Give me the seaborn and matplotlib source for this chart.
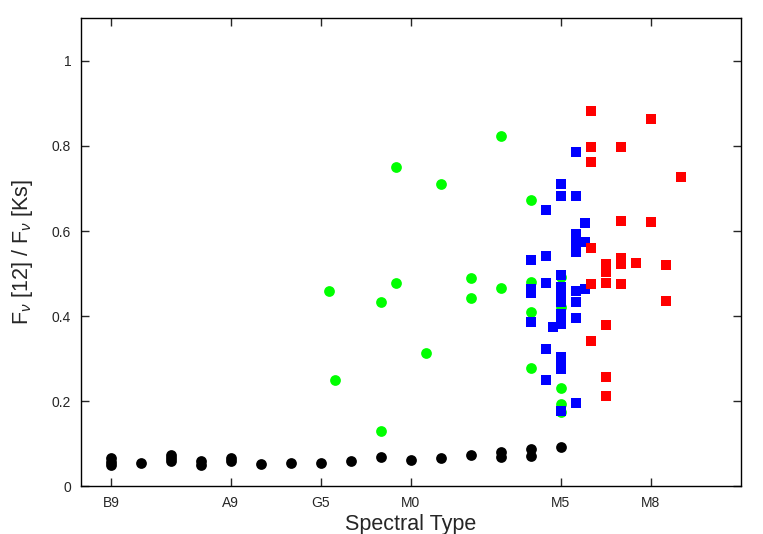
"""Mid-IR excess F_nu[12]/F_nu[Ks] against spectral type"""
import matplotlib
matplotlib.use("Agg")
import matplotlib.pyplot as plt
import pandas as pd
import seaborn as sns


# spectral type scale: M0 = 0, M5 = 5, M8 = 8, G5 = -3, A9 = -6, B9 = -10
TICK_POS = [-10, -6, -3, 0, 5, 8]
TICK_LABELS = ['B9', 'A9', 'G5', 'M0', 'M5', 'M8']

# photospheric (black circles)
PHOT_SPT = [-10, -10, -10, -9, -8, -8, -8, -7, -7, -6, -6, -5, -4, -3, -2,
            -1, 0, 1, 2, 3, 3, 4, 4, 5]
PHOT_RATIO = [0.068, 0.058, 0.050, 0.054, 0.074, 0.066, 0.059, 0.059, 0.051,
              0.068, 0.059, 0.053, 0.056, 0.056, 0.061,
              0.070, 0.063, 0.067, 0.074, 0.082, 0.070, 0.088, 0.072, 0.093]

# disk stars (green circles)
DISK_SPT = [-2.74, -2.53, -1.0, -1.0, -0.5, -0.5, 0.5, 1.0, 2.0, 2.0, 3.0,
            3.0, 4.0, 4.0, 4.0, 4.0, 5.0, 5.0, 5.0, 5.0, 5.0]
DISK_RATIO = [0.459, 0.250, 0.434, 0.131, 0.750, 0.477, 0.313, 0.710, 0.489,
              0.442, 0.824, 0.467, 0.674, 0.481, 0.410, 0.278, 0.492, 0.422,
              0.231, 0.193, 0.176]

# blue squares
BLUE_SPT = [5.5, 5.0, 5.0, 5.5, 4.5, 5.8, 5.5, 5.5, 5.8, 5.5, 4.5, 4.0,
            5.0, 4.5, 4.0, 4.0, 5.0, 5.0, 5.5, 5.8, 5.0, 5.5, 5.0, 4.0,
            5.0, 4.75, 5.5, 4.5, 5.0, 5.0, 5.0, 4.5, 5.5, 5.0]
BLUE_RATIO = [0.786, 0.710, 0.683, 0.683, 0.649, 0.618, 0.594, 0.575, 0.575,
              0.551, 0.541, 0.532, 0.496, 0.478, 0.463, 0.454, 0.469, 0.457,
              0.460, 0.465, 0.434, 0.434, 0.405, 0.386, 0.382, 0.375, 0.395,
              0.323, 0.305, 0.289, 0.276, 0.249, 0.197, 0.178]

# red squares
RED_SPT = [6.0, 8.0, 6.0, 7.0, 6.0, 9.0, 7.0, 8.0, 6.0, 7.0, 7.0, 6.5, 6.5,
           7.5, 8.5, 6.0, 6.5, 7.0, 8.5, 6.5, 6.0, 6.5, 6.5]
RED_RATIO = [0.883, 0.862, 0.797, 0.797, 0.762, 0.726, 0.623, 0.622, 0.561,
             0.536, 0.522, 0.522, 0.504, 0.524, 0.520, 0.475, 0.478, 0.475,
             0.435, 0.380, 0.341, 0.258, 0.213]


def make_plot():
    sns.set_style("ticks")
    plt.rcParams['font.family'] = ['Liberation Sans', 'DejaVu Sans']
    plt.rcParams['mathtext.fontset'] = 'custom'
    plt.rcParams['mathtext.rm'] = 'Liberation Sans'
    plt.rcParams['mathtext.it'] = 'Liberation Sans:italic'

    fig = plt.figure(figsize=(7.63, 5.34), dpi=100)
    ax = fig.add_axes([0.106, 0.089, 0.865, 0.877])

    phot = pd.DataFrame({'spt': PHOT_SPT, 'ratio': PHOT_RATIO})
    disk = pd.DataFrame({'spt': DISK_SPT, 'ratio': DISK_RATIO})
    blue = pd.DataFrame({'spt': BLUE_SPT, 'ratio': BLUE_RATIO})
    red = pd.DataFrame({'spt': RED_SPT, 'ratio': RED_RATIO})

    sns.scatterplot(data=phot, x='spt', y='ratio', ax=ax, color='black',
                    marker='o', s=60, linewidth=0)
    sns.scatterplot(data=disk, x='spt', y='ratio', ax=ax, color='#00ff00',
                    marker='o', s=60, linewidth=0)
    sns.scatterplot(data=blue, x='spt', y='ratio', ax=ax, color='#0000ff',
                    marker='s', s=55, linewidth=0)
    sns.scatterplot(data=red, x='spt', y='ratio', ax=ax, color='#ff0000',
                    marker='s', s=55, linewidth=0)

    ax.set_xlim(-11, 11)
    ax.set_ylim(0, 1.1)
    ax.set_xticks(TICK_POS)
    ax.set_xticklabels(TICK_LABELS)
    ax.set_yticks([0, 0.2, 0.4, 0.6, 0.8, 1.0])
    ax.set_yticklabels(['0', '0.2', '0.4', '0.6', '0.8', '1'])
    ax.tick_params(direction='in', length=6, width=1, labelsize=10,
                   top=True, right=True, pad=7)
    for side in ax.spines.values():
        side.set_linewidth(1)
        side.set_color('black')

    ax.set_xlabel('Spectral Type', fontsize=15.5, labelpad=3)
    ax.set_ylabel(r'F$_\nu$ [12] / F$_\nu$ [Ks]', fontsize=15.5, labelpad=12)

    fig.savefig("out.png", dpi=100)


if __name__ == "__main__":
    make_plot()
